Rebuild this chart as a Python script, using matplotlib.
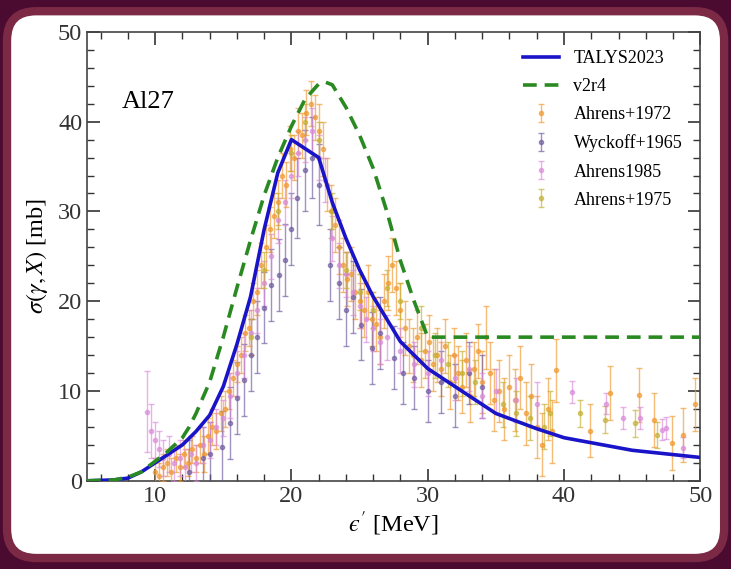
import matplotlib
matplotlib.use("Agg")
import matplotlib.pyplot as plt
from matplotlib.patches import FancyBboxPatch
from matplotlib.ticker import MultipleLocator

plt.rcParams['font.family'] = ['Liberation Serif', 'DejaVu Serif']
plt.rcParams['mathtext.fontset'] = 'stix'

# model curves
talys_x = [5, 7, 8, 9, 10, 11, 12, 13, 14, 15, 16, 17, 18, 19, 20, 22, 23, 24, 25, 26, 27, 28, 30, 32, 35, 38, 40, 45, 50]
talys_y = [0, 0.1, 0.3, 1.0, 2.0, 3.0, 4.0, 5.5, 7.3, 10.5, 15.2, 20.5, 28.0, 34.3, 38.0, 36.0, 31.0, 27.0, 23.5, 20.5, 18.0, 15.5, 12.5, 10.5, 7.5, 5.8, 4.8, 3.4, 2.6]

v2r4_x = [5, 7, 8, 9, 9.5, 10.8, 12, 12.5, 13, 14, 15, 16, 17, 18, 19, 20, 21, 22, 22.5, 23, 24, 25, 26, 27, 28, 29, 30, 35, 40, 45, 50]
v2r4_y = [0, 0.1, 0.4, 1.0, 1.6, 3.1, 4.8, 6.0, 7.5, 11.0, 16.0, 21.5, 26.8, 31.8, 36.0, 39.5, 42.5, 44.2, 44.4, 44.1, 41.6, 38.5, 34.8, 30.0, 24.5, 20.0, 16.0, 16.0, 16.0, 16.0, 16.0]

# Ahrens+1972
a72_x = [10.0, 10.3, 10.6, 10.9, 11.2, 11.5, 11.8, 12.1, 12.4, 12.7, 13.0, 13.3, 13.6, 13.9, 14.2, 14.5, 14.8,
         15.1, 15.4, 15.7, 16.0, 16.3, 16.6, 16.9, 17.2, 17.5, 17.8, 18.1, 18.4, 18.7, 19.0, 19.3, 19.6, 19.9,
         20.2, 20.5, 20.8, 21.1, 21.4, 21.7, 22.0, 22.3, 22.6, 22.9, 23.2, 23.5, 23.8, 24.1, 24.4, 24.7, 25.0,
         25.3, 25.6, 25.9, 26.2, 26.5, 26.8, 27.1, 27.4, 27.7, 28.0, 28.3, 28.6, 28.9, 29.2, 29.5, 29.8, 30.1,
         30.4, 30.7, 31.0, 31.3, 31.6, 31.9, 32.2, 32.5, 32.8, 33.1, 33.4, 33.7, 34.0, 34.3, 34.6, 34.9, 35.2,
         35.6, 36.0, 36.4, 36.8, 37.2, 37.6, 38.0, 38.4, 38.8, 39.1, 39.4, 41.9, 43.4, 45.5, 46.6, 47.9, 48.7, 49.6]
a72_y = [1.0, 0.5, 1.5, 2.0, 1.0, 2.5, 1.5, 3.0, 2.0, 3.5, 2.5, 4.0, 3.0, 5.0, 6.0, 5.5, 7.5,
         8.0, 10.0, 11.5, 13.0, 14.0, 16.5, 17.0, 20.0, 21.0, 24.0, 26.0, 28.0, 29.5, 31.0, 34.0, 33.0, 37.0,
         36.0, 39.0, 38.5, 41.0, 42.0, 40.5, 39.0, 37.0, 33.0, 30.0, 28.5, 26.0, 24.0, 22.5, 23.0, 21.0, 20.0,
         19.0, 21.0, 18.0, 17.5, 16.0, 20.0, 22.0, 24.0, 21.5, 19.0, 17.0, 15.0, 14.0, 16.0, 13.5, 14.5, 15.5,
         13.0, 14.0, 12.5, 15.0, 11.0, 14.0, 12.0, 10.5, 13.5, 9.5, 12.5, 14.5, 11.0, 16.0, 12.0, 9.0, 10.0,
         8.0, 10.5, 9.0, 11.5, 7.5, 9.5, 6.0, 4.0, 8.0, 5.5, 12.3, 5.6, 9.8, 9.6, 6.8, 4.2, 5.1, 8.5]
a72_e = [1.5] * 11 + [2.0] * 14 + [2.5] * 15 + [3.0] * 40 + [3.5] * 16 + [3.0] * 7

# Wyckoff+1965
w65_x = [12.5, 13.5, 14.0, 14.9, 15.5, 16.0, 16.5, 17.0, 17.5, 18.0, 18.5, 19.1, 19.5, 20.0, 20.4, 21.0, 21.5,
         22.0, 22.8, 23.5, 24.0, 24.5, 25.1, 25.9, 26.5, 27.5, 28.2, 29.0, 30.0, 31.0, 32.0, 33.0, 34.0]
w65_y = [1.0, 2.5, 3.0, 3.8, 6.4, 9.2, 11.2, 14.0, 16.0, 19.3, 21.8, 22.9, 24.6, 28.0, 31.5, 34.6, 36.0,
         33.0, 24.0, 22.0, 19.0, 20.5, 17.4, 14.8, 16.5, 13.7, 12.0, 11.5, 10.0, 11.0, 9.5, 12.0, 10.5]
w65_e = [3.5, 3.5, 3.5, 4.0, 4.0, 4.0, 4.0, 4.0, 4.0, 4.0, 4.0, 4.0, 4.0, 4.0, 4.5, 4.5, 4.5,
         4.5, 4.0, 4.0, 4.0, 4.0, 4.0, 4.0, 4.0, 3.5, 3.5, 3.5, 3.5, 3.5, 3.5, 3.5, 3.5]

# Ahrens1985
a85_x = [9.4, 9.7, 10.0, 10.3, 10.6, 11.0, 11.4, 11.8, 12.2, 12.6, 13.0, 13.5, 14.0, 14.5, 15.0, 15.5, 16.0,
         16.5, 17.0, 17.5, 18.0, 18.5, 19.0, 19.5, 20.0, 20.5, 21.0, 21.5, 22.0, 22.5, 23.0, 23.5, 24.0, 24.5,
         25.0, 25.5, 26.0, 26.5, 27.0, 28.0, 29.0, 30.0, 31.0, 32.0, 33.0, 34.0, 35.0, 36.5, 38.0, 40.6, 43.1,
         44.3, 45.6, 47.2, 47.5, 48.7]
a85_y = [7.7, 5.5, 4.5, 3.5, 2.5, 3.0, 2.0, 2.5, 1.5, 3.0, 2.0, 4.0, 4.5, 6.0, 7.0, 9.5, 12.0,
         14.0, 16.5, 19.0, 22.0, 25.0, 29.0, 31.0, 34.0, 36.5, 38.0, 39.0, 36.0, 33.5, 27.0, 24.0, 23.0, 21.0,
         19.5, 18.0, 17.0, 15.5, 16.0, 14.5, 13.0, 12.0, 13.5, 11.5, 12.5, 9.5, 10.0, 9.0, 8.5, 9.9, 8.6,
         7.0, 7.0, 5.7, 5.9, 3.7]
a85_e = [4.5, 3.0] + [2.0] * 13 + [2.5] * 34 + [1.2] * 7

# Ahrens+1975
a75_x = [17.0, 18.0, 19.0, 20.0, 21.0, 22.0, 23.0, 24.0, 25.0, 26.0, 27.0, 28.0, 29.5, 30.5, 31.5, 32.5, 33.5,
         35.5, 36.5, 37.5, 38.5, 39.0, 41.2, 43.0, 45.2, 46.8]
a75_y = [16.0, 23.5, 30.0, 36.5, 40.0, 38.0, 30.0, 23.5, 21.0, 19.0, 21.5, 20.0, 17.0, 14.0, 13.0, 12.0, 11.0,
         8.5, 7.5, 7.0, 6.0, 7.5, 7.5, 6.8, 6.4, 5.1]
a75_e = [2.0] * 12 + [2.5] * 10 + [1.5] * 4

fig = plt.figure(figsize=(7.31, 5.69), dpi=100)
fig.patch.set_facecolor('#4b0b31')
panel = FancyBboxPatch((0.0096, 0.0193), 0.981, 0.961, boxstyle="round,pad=0,rounding_size=0.04",
                       transform=fig.transFigure, facecolor='white', edgecolor='#7b2945',
                       linewidth=6, mutation_aspect=731 / 569, zorder=-10)
fig.patches.append(panel)

ax = fig.add_axes([0.119, 0.155, 0.839, 0.789])
ax.set_facecolor('white')

ax.plot(talys_x, talys_y, color='#1a14c8', lw=2.6, label='TALYS2023', zorder=5)
ax.plot(v2r4_x, v2r4_y, color='#2a8a22', lw=2.6, ls=(0, (3.8, 2.2)), label='v2r4', zorder=5)

sets = [(a72_x, a72_y, a72_e, '#f0982e', 'Ahrens+1972'),
        (w65_x, w65_y, w65_e, '#6e5a9e', 'Wyckoff+1965'),
        (a85_x, a85_y, a85_e, '#d98ad9', 'Ahrens1985'),
        (a75_x, a75_y, a75_e, '#c4b030', 'Ahrens+1975')]
for xs, ys, es, col, name in sets:
    ax.errorbar(xs, ys, yerr=es, fmt='o', ms=3, color=col, ecolor=col, elinewidth=1,
                capsize=2.5, alpha=0.65, label=name, zorder=3)

ax.set_xlim(5, 50)
ax.set_ylim(0, 50)
ax.xaxis.set_major_locator(MultipleLocator(10))
ax.xaxis.set_minor_locator(MultipleLocator(2))
ax.yaxis.set_major_locator(MultipleLocator(10))
ax.yaxis.set_minor_locator(MultipleLocator(2))
ax.tick_params(which='both', direction='in', top=True, right=True, colors='#333333', labelsize=17.5)
ax.tick_params(which='major', length=9, width=1.2)
ax.tick_params(which='minor', length=5, width=1.0)
for s in ax.spines.values():
    s.set_color('#444444')
    s.set_linewidth(1.2)

ax.set_xlabel("$\u03f5'$ [MeV]", fontsize=17.5, labelpad=2)
ax.set_ylabel(r"$\sigma(\gamma,X)$ [mb]", fontsize=17.5, labelpad=6)
ax.text(0.057, 0.83, 'Al27', transform=ax.transAxes, fontsize=19)

ax.legend(loc='upper right', frameon=False, fontsize=13, handlelength=2.0, handletextpad=0.8,
          borderaxespad=0.6, labelspacing=0.62)

fig.savefig('out.png', dpi=100, facecolor=fig.get_facecolor())
